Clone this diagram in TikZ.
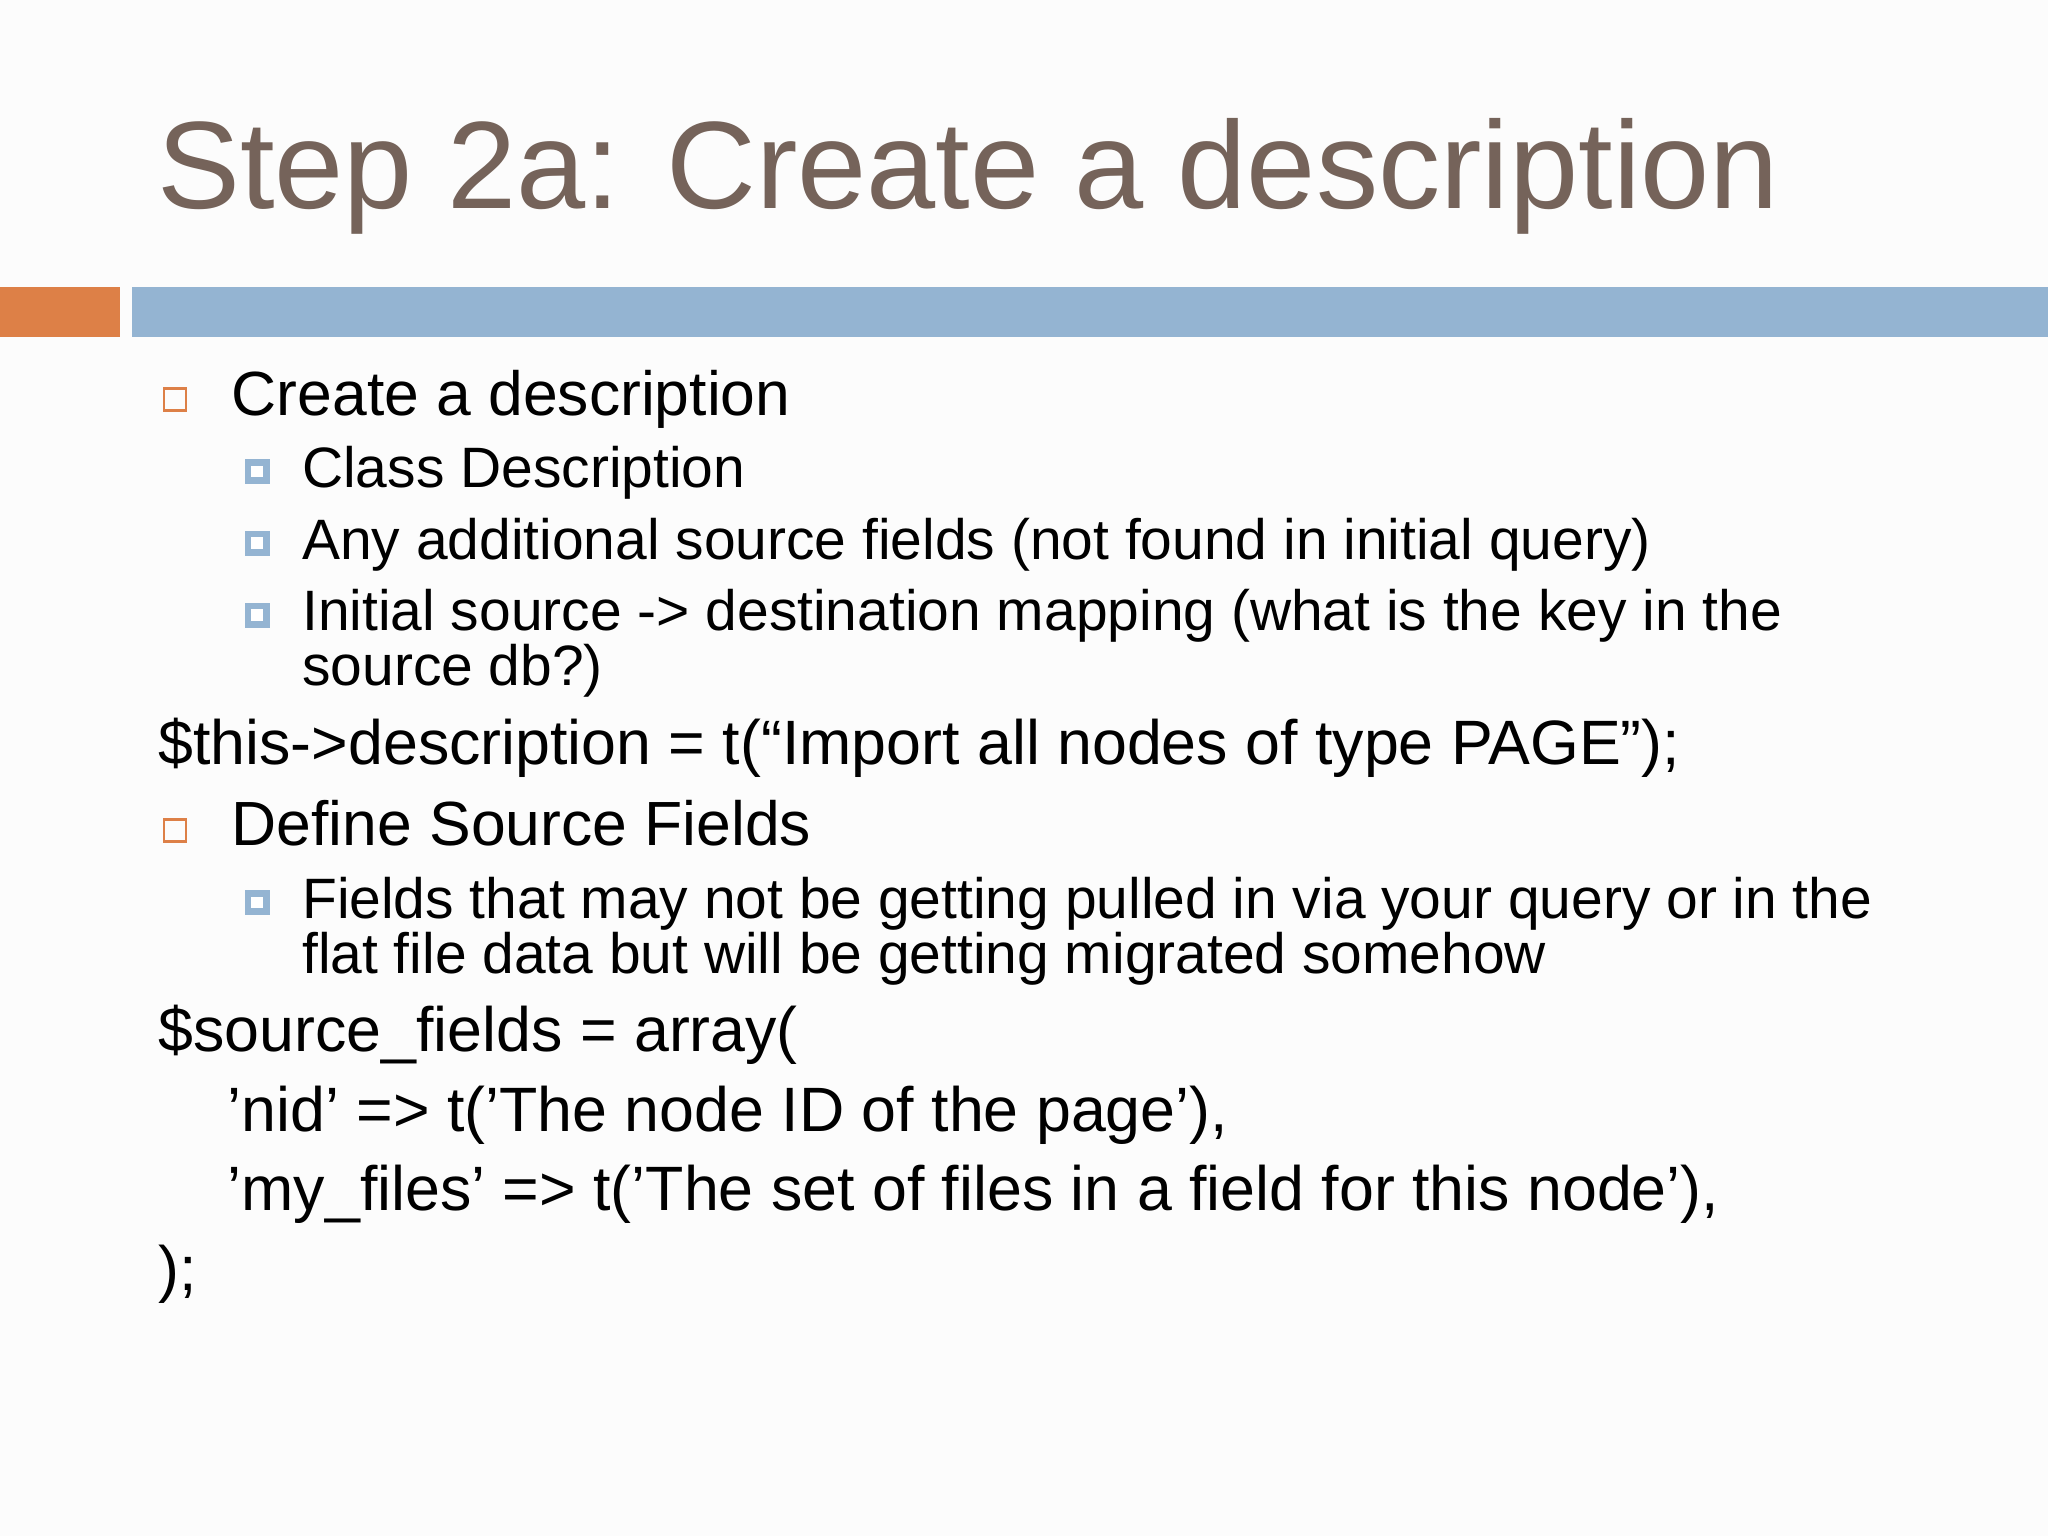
\documentclass[tikz,border=0pt]{standalone}
\usepackage{fontspec}
\setmainfont{Liberation Sans}
\definecolor{titlec}{RGB}{117,99,90}
\definecolor{orangec}{RGB}{221,128,71}
\definecolor{bluec}{RGB}{148,180,210}
\definecolor{bulc}{RGB}{148,180,210}
\newcommand{\sq}{\char39\relax}
\tikzset{
 t1/.style={anchor=base west,inner sep=0pt,font=\fontsize{23.9pt}{26pt}\selectfont},
 t2/.style={anchor=base west,inner sep=0pt,font=\fontsize{21.8pt}{24pt}\selectfont},
 cd/.style={anchor=base west,inner sep=0pt,font=\fontsize{24pt}{26pt}\selectfont},
}
\newcommand{\bulA}[2]{\draw[orangec,line width=1pt] (#1-8.5,#2+8.5) rectangle (#1+8.5,#2-8.5);}
\newcommand{\bulB}[2]{\fill[bulc] (#1-9.5,#2+9.5) rectangle (#1+9.5,#2-9.5); \fill[white] (#1-4.5,#2+4.5) rectangle (#1+4.5,#2-4.5);}
\begin{document}
\begin{tikzpicture}[x=0.5pt,y=-0.5pt]
\useasboundingbox (0,0) rectangle (1568,1176);
\fill[white!99!black] (0,0) rectangle (1568,1176);
\node[anchor=base west,inner sep=0pt,text=titlec,font=\fontsize{47.6pt}{52pt}\selectfont] (title) at (120,160) {Step 2a: Create a description};
\fill[orangec] (0,220) rectangle (92,258);
\fill[bluec] (101,220) rectangle (1568,258);
\bulA{134}{306}
\node[t1] (a) at (177,318) {Create a description};
\bulB{197}{361}
\node[t2] (b) at (231,373) {Class Description};
\bulB{197}{416}
\node[t2] (c) at (231,428) {Any additional source fields (not found in initial query)};
\bulB{197}{471}
\node[t2] (d) at (231,483) {Initial source -> destination mapping (what is the key in the};
\node[t2] (d2) at (231,525) {source db?)};
\node[cd] (e) at (121,585) {\$this->description = t(“Import all nodes of type PAGE”);};
\bulA{134}{636}
\node[t1] (f) at (177,647) {Define Source Fields};
\bulB{197}{691}
\node[t2] (g) at (231,703) {Fields that may not be getting pulled in via your query or in the};
\node[t2] (g2) at (231,745) {flat file data but will be getting migrated somehow};
\node[cd] (h) at (121,805) {\$source\_fields = array(};
\node[cd] (i) at (174,866) {\sq nid\sq{} => t(\sq The node ID of the page\sq),};
\node[cd] (j) at (174,927) {’my\_files\sq{} => t(’The set of files in a field for this node\sq),};
\node[cd] (k) at (121,988) {);};
\end{tikzpicture}
\end{document}
